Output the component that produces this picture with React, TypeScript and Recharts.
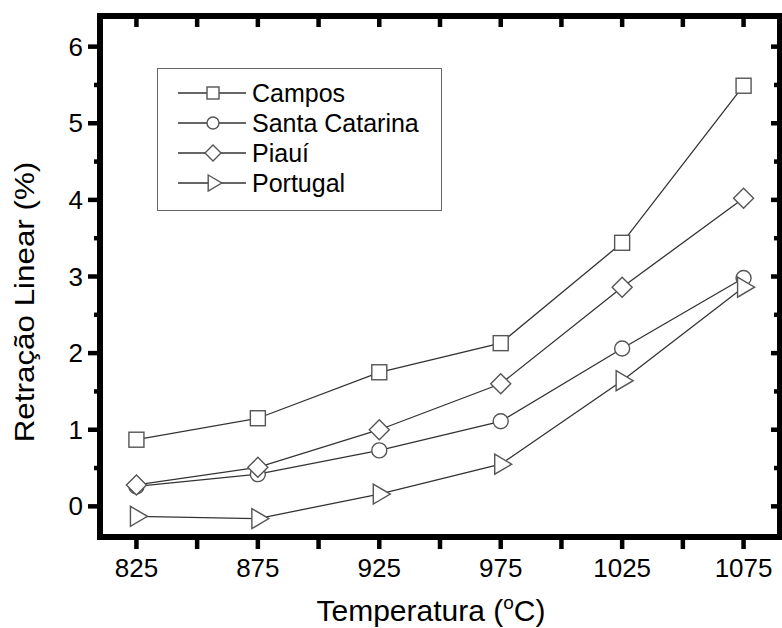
import React from 'react';
import { LineChart, Line, XAxis, YAxis, Label } from 'recharts';

// Firing temperature (°C)
const temperatures = [825, 875, 925, 975, 1025, 1075];

// Linear shrinkage (%) per clay origin
const campos = [0.87, 1.15, 1.75, 2.13, 3.44, 5.49];
const santaCatarina = [0.26, 0.42, 0.73, 1.11, 2.06, 2.98];
const piaui = [0.28, 0.51, 1.0, 1.6, 2.86, 4.02];
const portugal = [-0.13, -0.16, 0.16, 0.55, 1.64, 2.86];

const seriesNames = ['Campos', 'Santa Catarina', 'Piauí', 'Portugal'];

const xTicks = [825, 850, 875, 900, 925, 950, 975, 1000, 1025, 1050, 1075];
const xMajorTicks = [825, 875, 925, 975, 1025, 1075];
const yTicks = [0, 0.5, 1, 1.5, 2, 2.5, 3, 3.5, 4, 4.5, 5, 5.5, 6];
const yMajorTicks = [0, 1, 2, 3, 4, 5, 6];

const data = temperatures.map((t, i) => ({
  t,
  campos: campos[i],
  santaCatarina: santaCatarina[i],
  piaui: piaui[i],
  portugal: portugal[i],
}));

const FONT = "'Liberation Sans', Arial, sans-serif";
const MARKER_STROKE = '#555';
const LINE_STROKE = '#333';
const FRAME_W = 6;

type ShapeKind = 'square' | 'circle' | 'diamond' | 'triangle';

function Marker({ cx, cy, kind, s = 1 }: { cx: number; cy: number; kind: ShapeKind; s?: number }) {
  const common = { fill: '#fff', stroke: MARKER_STROKE, strokeWidth: 1.4 };
  if (kind === 'square') {
    const h = 7.5 * s;
    return <rect x={cx - h} y={cy - h} width={2 * h} height={2 * h} {...common} />;
  }
  if (kind === 'circle') {
    return <circle cx={cx} cy={cy} r={7.5 * s} {...common} />;
  }
  if (kind === 'diamond') {
    const h = 10 * s;
    return <polygon points={`${cx},${cy - h} ${cx + h},${cy} ${cx},${cy + h} ${cx - h},${cy}`} {...common} />;
  }
  const h = 10 * s;
  return (
    <polygon
      points={`${cx - 6 * s},${cy - h} ${cx + 11 * s},${cy} ${cx - 6 * s},${cy + h}`}
      {...common}
    />
  );
}

const makeDot = (kind: ShapeKind) => (props: any) => {
  const { cx, cy, index } = props;
  if (cx == null || cy == null) return <g key={`e-${kind}-${index}`} />;
  return (
    <g key={`${kind}-${index}`}>
      <Marker cx={cx} cy={cy} kind={kind} />
    </g>
  );
};

const series: { key: string; name: string; kind: ShapeKind }[] = [
  { key: 'campos', name: seriesNames[0], kind: 'square' },
  { key: 'santaCatarina', name: seriesNames[1], kind: 'circle' },
  { key: 'piaui', name: seriesNames[2], kind: 'diamond' },
  { key: 'portugal', name: seriesNames[3], kind: 'triangle' },
];

const tickStroke = { stroke: '#000', strokeWidth: 4.5 };

const BottomTick = (props: any) => {
  const { x, y, payload } = props;
  const major = xMajorTicks.includes(payload.value);
  return (
    <g>
      <line x1={x} y1={y} x2={x} y2={y + 12} {...tickStroke} />
      {major && (
        <text x={x} y={y + 40} textAnchor="middle" fontSize={26} fontFamily={FONT} fill="#000">
          {payload.value}
        </text>
      )}
    </g>
  );
};

const TopTick = (props: any) => {
  const { x, y } = props;
  return <line x1={x} y1={y} x2={x} y2={y + 11} {...tickStroke} />;
};

const LeftTick = (props: any) => {
  const { x, y, payload } = props;
  const major = yMajorTicks.includes(payload.value);
  return (
    <g>
      <line x1={x} y1={y} x2={x - (major ? 12 : 6)} y2={y} {...tickStroke} />
      {major && (
        <text x={x - 17} y={y + 9} textAnchor="end" fontSize={26} fontFamily={FONT} fill="#000">
          {payload.value}
        </text>
      )}
    </g>
  );
};

const RightTick = (props: any) => {
  const { x, y, payload } = props;
  const major = yMajorTicks.includes(payload.value);
  return <line x1={x} y1={y} x2={x - (major ? 9 : 6)} y2={y} {...tickStroke} />;
};

const XTitle = () => (
  <text x={431} y={621} textAnchor="middle" fontSize={30} fontFamily={FONT} fill="#000">
    Temperatura (
    <tspan fontSize={19} dy={-12}>o</tspan>
    <tspan dy={12}>C)</tspan>
  </text>
);

const YTitle = () => (
  <text
    x={0}
    y={0}
    transform="translate(34,302) rotate(-90) scale(1.12,1)"
    textAnchor="middle"
    fontSize={28}
    fontFamily={FONT}
    fill="#000"
  >
    Retração Linear (%)
  </text>
);

const axisLine = { stroke: '#000', strokeWidth: FRAME_W, strokeLinecap: 'square' as const };

function LegendBox() {
  return (
    <div
      style={{
        position: 'absolute',
        left: 157,
        top: 68,
        width: 285,
        height: 143,
        border: '1.5px solid #666',
        background: '#fff',
        boxSizing: 'border-box',
        paddingTop: 9,
        fontFamily: FONT,
      }}
    >
      {series.map((s) => (
        <div key={s.key} style={{ display: 'flex', alignItems: 'center', height: 30 }}>
          <svg width={68} height={30} style={{ marginLeft: 20, display: 'block' }}>
            <line x1={0} y1={15} x2={68} y2={15} stroke={LINE_STROKE} strokeWidth={1.3} />
            <Marker cx={35} cy={15} kind={s.kind} s={0.8} />
          </svg>
          <span style={{ marginLeft: 6, fontSize: 25, lineHeight: '30px', color: '#000' }}>{s.name}</span>
        </div>
      ))}
    </div>
  );
}

export default function App() {
  return (
    <div style={{ position: 'absolute', left: 0, top: 0, width: 782, height: 628, background: '#fff' }}>
      <LineChart width={782} height={628} data={data} margin={{ top: 15, right: 1, bottom: 0, left: 0 }}>
        <XAxis
          dataKey="t"
          type="number"
          domain={[810, 1090]}
          allowDataOverflow
          ticks={xTicks}
          interval={0}
          height={91}
          tickSize={0}
          tickMargin={0}
          tickLine={false}
          axisLine={axisLine}
          tick={<BottomTick />}
        >
          <Label content={<XTitle />} />
        </XAxis>
        <XAxis
          xAxisId="top"
          orientation="top"
          dataKey="t"
          type="number"
          domain={[810, 1090]}
          allowDataOverflow
          ticks={xTicks}
          interval={0}
          height={1}
          tickSize={0}
          tickMargin={0}
          tickLine={false}
          axisLine={axisLine}
          tick={<TopTick />}
        />
        <YAxis
          type="number"
          domain={[-0.4, 6.4]}
          allowDataOverflow
          ticks={yTicks}
          interval={0}
          width={100}
          tickSize={0}
          tickMargin={0}
          tickLine={false}
          axisLine={axisLine}
          tick={<LeftTick />}
        >
          <Label content={<YTitle />} />
        </YAxis>
        <YAxis
          yAxisId="right"
          orientation="right"
          type="number"
          domain={[-0.4, 6.4]}
          allowDataOverflow
          ticks={yTicks}
          interval={0}
          width={1}
          tickSize={0}
          tickMargin={0}
          tickLine={false}
          axisLine={axisLine}
          tick={<RightTick />}
        />
        {series.map((s) => (
          <Line
            key={s.key}
            dataKey={s.key}
            name={s.name}
            stroke={LINE_STROKE}
            strokeWidth={1.3}
            dot={makeDot(s.kind)}
            activeDot={false}
            isAnimationActive={false}
          />
        ))}
      </LineChart>
      <LegendBox />
    </div>
  );
}
